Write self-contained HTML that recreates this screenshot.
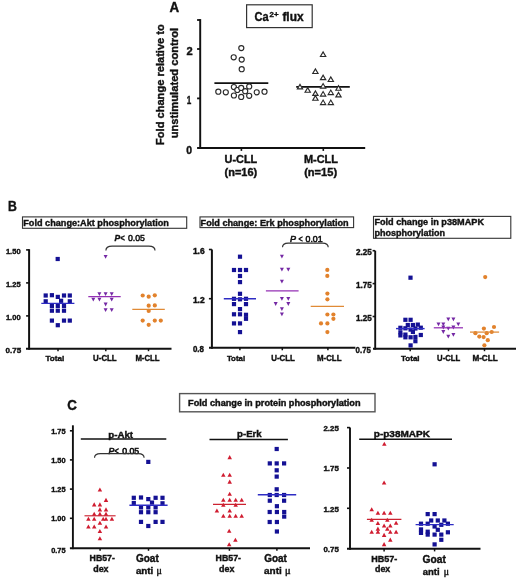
<!DOCTYPE html>
<html><head><meta charset="utf-8"><style>
html,body{margin:0;padding:0;background:#fff;}
svg{display:block;will-change:transform;filter:blur(0.3px);}
text{font-family:"Liberation Sans",sans-serif;}
</style></head><body>
<svg width="520" height="580" viewBox="0 0 520 580">
<rect width="520" height="580" fill="#fff"/>
<text x="169.60" y="12.30" font-size="13.8" font-weight="bold" font-style="normal" textLength="9.63" lengthAdjust="spacingAndGlyphs" fill="#111" stroke="#111" stroke-width="0.4">A</text>
<rect x="246.6" y="4.8" width="65.60" height="22.80" fill="#fff" stroke="#333" stroke-width="1.2"/>
<text x="254.60" y="20.60" font-size="12.6" font-weight="bold" font-style="normal" textLength="14.13" lengthAdjust="spacingAndGlyphs" fill="#111" stroke="#111" stroke-width="0.4">Ca</text>
<text x="269.60" y="16.90" font-size="7.8" font-weight="bold" font-style="normal" textLength="9.00" lengthAdjust="spacingAndGlyphs" fill="#111" stroke="#111" stroke-width="0.4">2+</text>
<text x="282.40" y="20.60" font-size="12.6" font-weight="bold" font-style="normal" textLength="21.17" lengthAdjust="spacingAndGlyphs" fill="#111" stroke="#111" stroke-width="0.4">flux</text>
<text transform="translate(164.30,0) rotate(-90)" x="-145.00" y="0" font-size="11" font-weight="bold" textLength="120.81" lengthAdjust="spacingAndGlyphs" fill="#111" stroke="#111" stroke-width="0.4">Fold change relative to</text>
<text transform="translate(177.80,0) rotate(-90)" x="-138.30" y="0" font-size="11" font-weight="bold" textLength="110.39" lengthAdjust="spacingAndGlyphs" fill="#111" stroke="#111" stroke-width="0.4">unstimulated control</text>
<line x1="200.2" y1="19.1" x2="200.2" y2="148.875" stroke="#111" stroke-width="1.95" stroke-linecap="butt"/>
<line x1="197.1" y1="20" x2="200.2" y2="20" stroke="#111" stroke-width="1.8" stroke-linecap="butt"/>
<line x1="197.1" y1="49.0" x2="200.2" y2="49.0" stroke="#111" stroke-width="1.8" stroke-linecap="butt"/>
<line x1="197.1" y1="98.4" x2="200.2" y2="98.4" stroke="#111" stroke-width="1.8" stroke-linecap="butt"/>
<line x1="197.1" y1="147.9" x2="365.2" y2="147.9" stroke="#111" stroke-width="2.0" stroke-linecap="butt"/>
<line x1="241.4" y1="147.9" x2="241.4" y2="150.9" stroke="#111" stroke-width="1.6" stroke-linecap="butt"/>
<line x1="323.3" y1="147.9" x2="323.3" y2="150.9" stroke="#111" stroke-width="1.6" stroke-linecap="butt"/>
<text x="186.50" y="55.40" font-size="10.8" font-weight="bold" font-style="normal" textLength="6.21" lengthAdjust="spacingAndGlyphs" fill="#111" stroke="#111" stroke-width="0.4">2</text>
<text x="186.80" y="104.40" font-size="10.8" font-weight="bold" font-style="normal" textLength="4.51" lengthAdjust="spacingAndGlyphs" fill="#111" stroke="#111" stroke-width="0.4">1</text>
<text x="186.30" y="153.80" font-size="10.8" font-weight="bold" font-style="normal" textLength="5.81" lengthAdjust="spacingAndGlyphs" fill="#111" stroke="#111" stroke-width="0.4">0</text>
<text x="224.60" y="163.40" font-size="10.6" font-weight="bold" font-style="normal" textLength="32.59" lengthAdjust="spacingAndGlyphs" fill="#111" stroke="#111" stroke-width="0.4">U-CLL</text>
<text x="224.60" y="176.10" font-size="10.6" font-weight="bold" font-style="normal" textLength="32.58" lengthAdjust="spacingAndGlyphs" fill="#111" stroke="#111" stroke-width="0.4">(n=16)</text>
<text x="303.90" y="163.40" font-size="10.6" font-weight="bold" font-style="normal" textLength="34.10" lengthAdjust="spacingAndGlyphs" fill="#111" stroke="#111" stroke-width="0.4">M-CLL</text>
<text x="304.20" y="176.10" font-size="10.6" font-weight="bold" font-style="normal" textLength="32.88" lengthAdjust="spacingAndGlyphs" fill="#111" stroke="#111" stroke-width="0.4">(n=15)</text>
<line x1="214.4" y1="83.1" x2="268.3" y2="83.1" stroke="#111" stroke-width="1.7" stroke-linecap="butt"/>
<circle cx="241.3" cy="48.1" r="2.55" fill="#fff" stroke="#2a2a2a" stroke-width="1.15"/>
<circle cx="233.7" cy="57.3" r="2.55" fill="#fff" stroke="#2a2a2a" stroke-width="1.15"/>
<circle cx="241.7" cy="59.6" r="2.55" fill="#fff" stroke="#2a2a2a" stroke-width="1.15"/>
<circle cx="241.7" cy="69.2" r="2.55" fill="#fff" stroke="#2a2a2a" stroke-width="1.15"/>
<circle cx="218.3" cy="91.7" r="2.55" fill="#fff" stroke="#2a2a2a" stroke-width="1.15"/>
<circle cx="225.8" cy="92.3" r="2.55" fill="#fff" stroke="#2a2a2a" stroke-width="1.15"/>
<circle cx="233.9" cy="87.1" r="2.55" fill="#fff" stroke="#2a2a2a" stroke-width="1.15"/>
<circle cx="237.3" cy="90" r="2.55" fill="#fff" stroke="#2a2a2a" stroke-width="1.15"/>
<circle cx="241.2" cy="87.9" r="2.55" fill="#fff" stroke="#2a2a2a" stroke-width="1.15"/>
<circle cx="245.2" cy="91.2" r="2.55" fill="#fff" stroke="#2a2a2a" stroke-width="1.15"/>
<circle cx="249.2" cy="86.5" r="2.55" fill="#fff" stroke="#2a2a2a" stroke-width="1.15"/>
<circle cx="233.9" cy="95.5" r="2.55" fill="#fff" stroke="#2a2a2a" stroke-width="1.15"/>
<circle cx="241.2" cy="96.9" r="2.55" fill="#fff" stroke="#2a2a2a" stroke-width="1.15"/>
<circle cx="249.2" cy="95.8" r="2.55" fill="#fff" stroke="#2a2a2a" stroke-width="1.15"/>
<circle cx="256.7" cy="92.3" r="2.55" fill="#fff" stroke="#2a2a2a" stroke-width="1.15"/>
<circle cx="264.5" cy="91.7" r="2.55" fill="#fff" stroke="#2a2a2a" stroke-width="1.15"/>
<line x1="296.2" y1="86.9" x2="349.8" y2="86.9" stroke="#111" stroke-width="1.7" stroke-linecap="butt"/>
<polygon points="320.45,56.45 325.75,56.45 323.10,51.95" fill="#fff" stroke="#2a2a2a" stroke-width="1.15" stroke-linejoin="miter"/>
<polygon points="312.75,73.45 318.05,73.45 315.40,68.95" fill="#fff" stroke="#2a2a2a" stroke-width="1.15" stroke-linejoin="miter"/>
<polygon points="320.45,79.65 325.75,79.65 323.10,75.15" fill="#fff" stroke="#2a2a2a" stroke-width="1.15" stroke-linejoin="miter"/>
<polygon points="328.15,81.45 333.45,81.45 330.80,76.95" fill="#fff" stroke="#2a2a2a" stroke-width="1.15" stroke-linejoin="miter"/>
<polygon points="297.35,88.85 302.65,88.85 300.00,84.35" fill="#fff" stroke="#2a2a2a" stroke-width="1.15" stroke-linejoin="miter"/>
<polygon points="320.45,88.05 325.75,88.05 323.10,83.55" fill="#fff" stroke="#2a2a2a" stroke-width="1.15" stroke-linejoin="miter"/>
<polygon points="335.85,90.25 341.15,90.25 338.50,85.75" fill="#fff" stroke="#2a2a2a" stroke-width="1.15" stroke-linejoin="miter"/>
<polygon points="305.05,92.25 310.35,92.25 307.70,87.75" fill="#fff" stroke="#2a2a2a" stroke-width="1.15" stroke-linejoin="miter"/>
<polygon points="312.75,95.35 318.05,95.35 315.40,90.85" fill="#fff" stroke="#2a2a2a" stroke-width="1.15" stroke-linejoin="miter"/>
<polygon points="320.45,96.05 325.75,96.05 323.10,91.55" fill="#fff" stroke="#2a2a2a" stroke-width="1.15" stroke-linejoin="miter"/>
<polygon points="328.15,94.55 333.45,94.55 330.80,90.05" fill="#fff" stroke="#2a2a2a" stroke-width="1.15" stroke-linejoin="miter"/>
<polygon points="335.85,96.85 341.15,96.85 338.50,92.35" fill="#fff" stroke="#2a2a2a" stroke-width="1.15" stroke-linejoin="miter"/>
<polygon points="312.75,100.25 318.05,100.25 315.40,95.75" fill="#fff" stroke="#2a2a2a" stroke-width="1.15" stroke-linejoin="miter"/>
<polygon points="320.45,104.55 325.75,104.55 323.10,100.05" fill="#fff" stroke="#2a2a2a" stroke-width="1.15" stroke-linejoin="miter"/>
<polygon points="328.15,104.55 333.45,104.55 330.80,100.05" fill="#fff" stroke="#2a2a2a" stroke-width="1.15" stroke-linejoin="miter"/>
<text x="8.10" y="210.80" font-size="13.8" font-weight="bold" font-style="normal" textLength="8.83" lengthAdjust="spacingAndGlyphs" fill="#111" stroke="#111" stroke-width="0.4">B</text>
<rect x="22.5" y="216.9" width="164.20" height="11.40" fill="#fff" stroke="#333" stroke-width="1.1"/>
<text x="23.30" y="226.10" font-size="9.4" font-weight="bold" font-style="normal" textLength="145.60" lengthAdjust="spacingAndGlyphs" fill="#111" stroke="#111" stroke-width="0.4">Fold change:Akt phosphorylation</text>
<text x="114.50" y="240.60" font-size="9" font-weight="bold" font-style="italic" textLength="5.67" lengthAdjust="spacingAndGlyphs" fill="#111" stroke="#111" stroke-width="0.4">P</text>
<text x="120.60" y="240.60" font-size="9" font-weight="bold" font-style="normal" textLength="4.29" lengthAdjust="spacingAndGlyphs" fill="#111" stroke="#111" stroke-width="0.4">&lt;</text>
<text x="127.90" y="240.60" font-size="9" font-weight="normal" font-style="normal" textLength="17.01" lengthAdjust="spacingAndGlyphs" fill="#111" stroke="#111" stroke-width="0.5">0.05</text>
<path d="M105.9,250.6 Q105.9,246.2 112.06,246.2 L148.84,246.2 Q155.0,246.2 155.0,250.6" fill="none" stroke="#333" stroke-width="1.2"/>
<line x1="29.1" y1="249.2" x2="29.1" y2="349.7" stroke="#111" stroke-width="2.0" stroke-linecap="butt"/>
<line x1="26.1" y1="249.9" x2="29.1" y2="249.9" stroke="#111" stroke-width="1.6" stroke-linecap="butt"/>
<line x1="26.1" y1="282.9" x2="29.1" y2="282.9" stroke="#111" stroke-width="1.6" stroke-linecap="butt"/>
<line x1="26.1" y1="315.9" x2="29.1" y2="315.9" stroke="#111" stroke-width="1.6" stroke-linecap="butt"/>
<line x1="26.0" y1="348.7" x2="171.5" y2="348.7" stroke="#111" stroke-width="1.9" stroke-linecap="butt"/>
<line x1="58" y1="348.7" x2="58" y2="351.2" stroke="#111" stroke-width="1.5" stroke-linecap="butt"/>
<line x1="105.8" y1="348.7" x2="105.8" y2="351.2" stroke="#111" stroke-width="1.5" stroke-linecap="butt"/>
<line x1="148.5" y1="348.7" x2="148.5" y2="351.2" stroke="#111" stroke-width="1.5" stroke-linecap="butt"/>
<text x="5.90" y="254.30" font-size="8" font-weight="bold" font-style="normal" textLength="14.71" lengthAdjust="spacingAndGlyphs" fill="#111" stroke="#111" stroke-width="0.4">1.50</text>
<text x="5.90" y="287.30" font-size="8" font-weight="bold" font-style="normal" textLength="14.71" lengthAdjust="spacingAndGlyphs" fill="#111" stroke="#111" stroke-width="0.4">1.25</text>
<text x="5.90" y="320.10" font-size="8" font-weight="bold" font-style="normal" textLength="14.71" lengthAdjust="spacingAndGlyphs" fill="#111" stroke="#111" stroke-width="0.4">1.00</text>
<text x="5.50" y="352.90" font-size="8" font-weight="bold" font-style="normal" textLength="15.61" lengthAdjust="spacingAndGlyphs" fill="#111" stroke="#111" stroke-width="0.4">0.75</text>
<text x="45.50" y="360.80" font-size="8" font-weight="bold" font-style="normal" textLength="18.80" lengthAdjust="spacingAndGlyphs" fill="#111" stroke="#111" stroke-width="0.4">Total</text>
<text x="93.10" y="360.60" font-size="8.2" font-weight="bold" font-style="normal" textLength="23.59" lengthAdjust="spacingAndGlyphs" fill="#111" stroke="#111" stroke-width="0.4">U-CLL</text>
<text x="135.40" y="360.60" font-size="8.2" font-weight="bold" font-style="normal" textLength="24.20" lengthAdjust="spacingAndGlyphs" fill="#111" stroke="#111" stroke-width="0.4">M-CLL</text>
<rect x="55.60" y="256.90" width="4.2" height="4.2" fill="#141194"/>
<rect x="43.60" y="293.40" width="4.2" height="4.2" fill="#141194"/>
<rect x="49.80" y="293.10" width="4.2" height="4.2" fill="#141194"/>
<rect x="55.70" y="294.80" width="4.2" height="4.2" fill="#141194"/>
<rect x="61.90" y="293.40" width="4.2" height="4.2" fill="#141194"/>
<rect x="67.70" y="293.40" width="4.2" height="4.2" fill="#141194"/>
<rect x="43.60" y="299.20" width="4.2" height="4.2" fill="#141194"/>
<rect x="59.00" y="298.70" width="4.2" height="4.2" fill="#141194"/>
<rect x="67.70" y="299.20" width="4.2" height="4.2" fill="#141194"/>
<rect x="49.80" y="303.80" width="4.2" height="4.2" fill="#141194"/>
<rect x="55.70" y="303.80" width="4.2" height="4.2" fill="#141194"/>
<rect x="61.90" y="303.80" width="4.2" height="4.2" fill="#141194"/>
<rect x="49.80" y="308.60" width="4.2" height="4.2" fill="#141194"/>
<rect x="55.70" y="308.60" width="4.2" height="4.2" fill="#141194"/>
<rect x="61.90" y="308.60" width="4.2" height="4.2" fill="#141194"/>
<rect x="49.80" y="318.50" width="4.2" height="4.2" fill="#141194"/>
<rect x="61.90" y="318.50" width="4.2" height="4.2" fill="#141194"/>
<rect x="67.70" y="318.50" width="4.2" height="4.2" fill="#141194"/>
<rect x="55.70" y="323.10" width="4.2" height="4.2" fill="#141194"/>
<line x1="41.3" y1="303.4" x2="74.4" y2="303.4" stroke="#2e2cc4" stroke-width="1.4" stroke-linecap="butt"/>
<polygon points="103.60,255.00 107.60,255.00 105.60,258.80" fill="#7428a4"/>
<polygon points="97.40,292.20 101.40,292.20 99.40,296.00" fill="#7428a4"/>
<polygon points="103.60,292.20 107.60,292.20 105.60,296.00" fill="#7428a4"/>
<polygon points="109.70,292.20 113.70,292.20 111.70,296.00" fill="#7428a4"/>
<polygon points="91.30,297.80 95.30,297.80 93.30,301.60" fill="#7428a4"/>
<polygon points="97.40,297.80 101.40,297.80 99.40,301.60" fill="#7428a4"/>
<polygon points="109.70,297.80 113.70,297.80 111.70,301.60" fill="#7428a4"/>
<polygon points="103.60,302.60 107.60,302.60 105.60,306.40" fill="#7428a4"/>
<polygon points="103.60,308.20 107.60,308.20 105.60,312.00" fill="#7428a4"/>
<polygon points="109.70,308.20 113.70,308.20 111.70,312.00" fill="#7428a4"/>
<line x1="88.3" y1="296.5" x2="120.7" y2="296.5" stroke="#9430b4" stroke-width="1.25" stroke-linecap="butt"/>
<circle cx="142.7" cy="295.5" r="2.1" fill="#e2822c"/>
<circle cx="148.7" cy="296.7" r="2.1" fill="#e2822c"/>
<circle cx="154.8" cy="295.3" r="2.1" fill="#e2822c"/>
<circle cx="148.7" cy="305.7" r="2.1" fill="#e2822c"/>
<circle cx="154.8" cy="305.4" r="2.1" fill="#e2822c"/>
<circle cx="148.7" cy="310.9" r="2.1" fill="#e2822c"/>
<circle cx="142.7" cy="320.6" r="2.1" fill="#e2822c"/>
<circle cx="154.8" cy="320.6" r="2.1" fill="#e2822c"/>
<circle cx="160.8" cy="320.6" r="2.1" fill="#e2822c"/>
<circle cx="148.7" cy="324.8" r="2.1" fill="#e2822c"/>
<line x1="132.3" y1="309.4" x2="164.8" y2="309.4" stroke="#e08a36" stroke-width="1.25" stroke-linecap="butt"/>
<rect x="200.0" y="216.9" width="153.60" height="10.70" fill="#fff" stroke="#333" stroke-width="1.1"/>
<text x="200.60" y="225.90" font-size="9.5" font-weight="bold" font-style="normal" textLength="148.09" lengthAdjust="spacingAndGlyphs" fill="#111" stroke="#111" stroke-width="0.4">Fold change: Erk phosphorylation</text>
<text x="290.00" y="242.00" font-size="8.5" font-weight="normal" font-style="italic" textLength="6.02" lengthAdjust="spacingAndGlyphs" fill="#111" stroke="#111" stroke-width="0.55">P</text>
<text x="298.60" y="242.00" font-size="8.5" font-weight="normal" font-style="normal" textLength="4.19" lengthAdjust="spacingAndGlyphs" fill="#111" stroke="#111" stroke-width="0.55">&lt;</text>
<text x="305.50" y="242.00" font-size="8.5" font-weight="normal" font-style="normal" textLength="17.11" lengthAdjust="spacingAndGlyphs" fill="#111" stroke="#111" stroke-width="0.55">0.01</text>
<path d="M282.5,247.3 Q282.5,243.2 288.24,243.2 L322.46,243.2 Q328.2,243.2 328.2,247.3" fill="none" stroke="#333" stroke-width="1.2"/>
<line x1="211.9" y1="249.5" x2="211.9" y2="348.8" stroke="#111" stroke-width="2.0" stroke-linecap="butt"/>
<line x1="208.9" y1="249.5" x2="211.9" y2="249.5" stroke="#111" stroke-width="1.6" stroke-linecap="butt"/>
<line x1="208.9" y1="298.7" x2="211.9" y2="298.7" stroke="#111" stroke-width="1.6" stroke-linecap="butt"/>
<line x1="209.0" y1="347.8" x2="355.4" y2="347.8" stroke="#111" stroke-width="1.9" stroke-linecap="butt"/>
<line x1="239.9" y1="347.8" x2="239.9" y2="350.3" stroke="#111" stroke-width="1.5" stroke-linecap="butt"/>
<line x1="282.3" y1="347.8" x2="282.3" y2="350.3" stroke="#111" stroke-width="1.5" stroke-linecap="butt"/>
<line x1="327.9" y1="347.8" x2="327.9" y2="350.3" stroke="#111" stroke-width="1.5" stroke-linecap="butt"/>
<text x="192.90" y="254.10" font-size="8.2" font-weight="bold" font-style="normal" textLength="11.80" lengthAdjust="spacingAndGlyphs" fill="#111" stroke="#111" stroke-width="0.4">1.6</text>
<text x="192.90" y="303.20" font-size="8.2" font-weight="bold" font-style="normal" textLength="11.80" lengthAdjust="spacingAndGlyphs" fill="#111" stroke="#111" stroke-width="0.4">1.2</text>
<text x="192.90" y="351.90" font-size="8.2" font-weight="bold" font-style="normal" textLength="11.00" lengthAdjust="spacingAndGlyphs" fill="#111" stroke="#111" stroke-width="0.4">0.8</text>
<text x="226.90" y="360.70" font-size="8" font-weight="bold" font-style="normal" textLength="18.20" lengthAdjust="spacingAndGlyphs" fill="#111" stroke="#111" stroke-width="0.4">Total</text>
<text x="271.20" y="360.70" font-size="8.2" font-weight="bold" font-style="normal" textLength="23.69" lengthAdjust="spacingAndGlyphs" fill="#111" stroke="#111" stroke-width="0.4">U-CLL</text>
<text x="317.00" y="361.40" font-size="8.2" font-weight="bold" font-style="normal" textLength="24.50" lengthAdjust="spacingAndGlyphs" fill="#111" stroke="#111" stroke-width="0.4">M-CLL</text>
<rect x="237.90" y="254.60" width="4.2" height="4.2" fill="#141194"/>
<rect x="231.90" y="267.90" width="4.2" height="4.2" fill="#141194"/>
<rect x="237.90" y="267.90" width="4.2" height="4.2" fill="#141194"/>
<rect x="243.90" y="267.90" width="4.2" height="4.2" fill="#141194"/>
<rect x="237.90" y="273.90" width="4.2" height="4.2" fill="#141194"/>
<rect x="237.90" y="280.00" width="4.2" height="4.2" fill="#141194"/>
<rect x="237.90" y="291.70" width="4.2" height="4.2" fill="#141194"/>
<rect x="231.90" y="296.70" width="4.2" height="4.2" fill="#141194"/>
<rect x="237.90" y="297.20" width="4.2" height="4.2" fill="#141194"/>
<rect x="243.90" y="296.70" width="4.2" height="4.2" fill="#141194"/>
<rect x="231.90" y="302.00" width="4.2" height="4.2" fill="#141194"/>
<rect x="243.90" y="302.00" width="4.2" height="4.2" fill="#141194"/>
<rect x="237.90" y="307.00" width="4.2" height="4.2" fill="#141194"/>
<rect x="231.90" y="312.20" width="4.2" height="4.2" fill="#141194"/>
<rect x="237.90" y="312.20" width="4.2" height="4.2" fill="#141194"/>
<rect x="243.90" y="312.70" width="4.2" height="4.2" fill="#141194"/>
<rect x="243.90" y="316.70" width="4.2" height="4.2" fill="#141194"/>
<rect x="231.90" y="321.30" width="4.2" height="4.2" fill="#141194"/>
<rect x="237.90" y="321.30" width="4.2" height="4.2" fill="#141194"/>
<rect x="237.90" y="330.00" width="4.2" height="4.2" fill="#141194"/>
<line x1="223.8" y1="298.8" x2="256" y2="298.8" stroke="#2e2cc4" stroke-width="1.4" stroke-linecap="butt"/>
<polygon points="279.90,254.70 283.90,254.70 281.90,258.50" fill="#7428a4"/>
<polygon points="279.90,267.80 283.90,267.80 281.90,271.60" fill="#7428a4"/>
<polygon points="286.30,267.80 290.30,267.80 288.30,271.60" fill="#7428a4"/>
<polygon points="279.90,279.70 283.90,279.70 281.90,283.50" fill="#7428a4"/>
<polygon points="279.90,296.90 283.90,296.90 281.90,300.70" fill="#7428a4"/>
<polygon points="286.30,296.90 290.30,296.90 288.30,300.70" fill="#7428a4"/>
<polygon points="273.70,302.10 277.70,302.10 275.70,305.90" fill="#7428a4"/>
<polygon points="286.30,302.10 290.30,302.10 288.30,305.90" fill="#7428a4"/>
<polygon points="279.90,307.20 283.90,307.20 281.90,311.00" fill="#7428a4"/>
<polygon points="279.90,312.40 283.90,312.40 281.90,316.20" fill="#7428a4"/>
<line x1="265.9" y1="290.9" x2="298.6" y2="290.9" stroke="#9430b4" stroke-width="1.25" stroke-linecap="butt"/>
<circle cx="327.3" cy="269.9" r="2.1" fill="#e2822c"/>
<circle cx="327.3" cy="275.9" r="2.1" fill="#e2822c"/>
<circle cx="327.4" cy="293.6" r="2.1" fill="#e2822c"/>
<circle cx="327.4" cy="299.3" r="2.1" fill="#e2822c"/>
<circle cx="327.4" cy="314.5" r="2.1" fill="#e2822c"/>
<circle cx="333.4" cy="314.5" r="2.1" fill="#e2822c"/>
<circle cx="333.4" cy="318.8" r="2.1" fill="#e2822c"/>
<circle cx="321" cy="323.4" r="2.1" fill="#e2822c"/>
<circle cx="327.4" cy="323.4" r="2.1" fill="#e2822c"/>
<circle cx="327.4" cy="332.1" r="2.1" fill="#e2822c"/>
<line x1="310.7" y1="306.4" x2="344" y2="306.4" stroke="#e08a36" stroke-width="1.25" stroke-linecap="butt"/>
<rect x="373.5" y="216.4" width="137.30" height="21.90" fill="#fff" stroke="#333" stroke-width="1.1"/>
<text x="374.40" y="225.40" font-size="9.5" font-weight="bold" font-style="normal" textLength="109.61" lengthAdjust="spacingAndGlyphs" fill="#111" stroke="#111" stroke-width="0.4">Fold change in p38MAPK</text>
<text x="374.40" y="235.60" font-size="9.5" font-weight="bold" font-style="normal" textLength="70.68" lengthAdjust="spacingAndGlyphs" fill="#111" stroke="#111" stroke-width="0.4">phosphorylation</text>
<line x1="375.2" y1="250.7" x2="375.2" y2="349.65" stroke="#111" stroke-width="1.9" stroke-linecap="butt"/>
<line x1="372.59999999999997" y1="250.7" x2="375.2" y2="250.7" stroke="#111" stroke-width="1.6" stroke-linecap="butt"/>
<line x1="372.59999999999997" y1="283.6" x2="375.2" y2="283.6" stroke="#111" stroke-width="1.6" stroke-linecap="butt"/>
<line x1="372.59999999999997" y1="316.5" x2="375.2" y2="316.5" stroke="#111" stroke-width="1.6" stroke-linecap="butt"/>
<line x1="373" y1="348.7" x2="516" y2="348.7" stroke="#111" stroke-width="1.9" stroke-linecap="butt"/>
<line x1="410.2" y1="348.7" x2="410.2" y2="351.2" stroke="#111" stroke-width="1.5" stroke-linecap="butt"/>
<line x1="448.5" y1="348.7" x2="448.5" y2="351.2" stroke="#111" stroke-width="1.5" stroke-linecap="butt"/>
<line x1="484.5" y1="348.7" x2="484.5" y2="351.2" stroke="#111" stroke-width="1.5" stroke-linecap="butt"/>
<text x="355.90" y="255.30" font-size="8.5" font-weight="bold" font-style="normal" textLength="15.81" lengthAdjust="spacingAndGlyphs" fill="#111" stroke="#111" stroke-width="0.4">2.25</text>
<text x="355.90" y="288.20" font-size="8.5" font-weight="bold" font-style="normal" textLength="15.81" lengthAdjust="spacingAndGlyphs" fill="#111" stroke="#111" stroke-width="0.4">1.75</text>
<text x="355.90" y="321.00" font-size="8.5" font-weight="bold" font-style="normal" textLength="15.81" lengthAdjust="spacingAndGlyphs" fill="#111" stroke="#111" stroke-width="0.4">1.25</text>
<text x="355.60" y="353.20" font-size="8.5" font-weight="bold" font-style="normal" textLength="15.31" lengthAdjust="spacingAndGlyphs" fill="#111" stroke="#111" stroke-width="0.4">0.75</text>
<text x="401.00" y="361.00" font-size="8" font-weight="bold" font-style="normal" textLength="18.60" lengthAdjust="spacingAndGlyphs" fill="#111" stroke="#111" stroke-width="0.4">Total</text>
<text x="437.10" y="361.00" font-size="8.2" font-weight="bold" font-style="normal" textLength="23.09" lengthAdjust="spacingAndGlyphs" fill="#111" stroke="#111" stroke-width="0.4">U-CLL</text>
<text x="472.40" y="361.00" font-size="8.2" font-weight="bold" font-style="normal" textLength="25.30" lengthAdjust="spacingAndGlyphs" fill="#111" stroke="#111" stroke-width="0.4">M-CLL</text>
<rect x="408.40" y="275.60" width="4.2" height="4.2" fill="#141194"/>
<rect x="403.30" y="317.70" width="4.2" height="4.2" fill="#141194"/>
<rect x="408.50" y="317.70" width="4.2" height="4.2" fill="#141194"/>
<rect x="405.70" y="322.90" width="4.2" height="4.2" fill="#141194"/>
<rect x="410.80" y="322.90" width="4.2" height="4.2" fill="#141194"/>
<rect x="415.70" y="322.50" width="4.2" height="4.2" fill="#141194"/>
<rect x="398.30" y="325.70" width="4.2" height="4.2" fill="#141194"/>
<rect x="403.30" y="326.20" width="4.2" height="4.2" fill="#141194"/>
<rect x="408.50" y="327.50" width="4.2" height="4.2" fill="#141194"/>
<rect x="413.30" y="326.40" width="4.2" height="4.2" fill="#141194"/>
<rect x="418.70" y="325.60" width="4.2" height="4.2" fill="#141194"/>
<rect x="398.30" y="330.20" width="4.2" height="4.2" fill="#141194"/>
<rect x="398.30" y="333.30" width="4.2" height="4.2" fill="#141194"/>
<rect x="403.30" y="332.50" width="4.2" height="4.2" fill="#141194"/>
<rect x="403.30" y="335.20" width="4.2" height="4.2" fill="#141194"/>
<rect x="408.50" y="335.20" width="4.2" height="4.2" fill="#141194"/>
<rect x="410.80" y="329.80" width="4.2" height="4.2" fill="#141194"/>
<rect x="413.30" y="334.80" width="4.2" height="4.2" fill="#141194"/>
<rect x="413.30" y="339.10" width="4.2" height="4.2" fill="#141194"/>
<rect x="418.70" y="332.90" width="4.2" height="4.2" fill="#141194"/>
<rect x="408.50" y="343.30" width="4.2" height="4.2" fill="#141194"/>
<line x1="396" y1="328.6" x2="424.6" y2="328.6" stroke="#2e2cc4" stroke-width="1.4" stroke-linecap="butt"/>
<polygon points="446.30,317.40 450.30,317.40 448.30,321.20" fill="#7428a4"/>
<polygon points="451.40,317.40 455.40,317.40 453.40,321.20" fill="#7428a4"/>
<polygon points="436.50,322.50 440.50,322.50 438.50,326.30" fill="#7428a4"/>
<polygon points="441.30,322.50 445.30,322.50 443.30,326.30" fill="#7428a4"/>
<polygon points="456.30,322.50 460.30,322.50 458.30,326.30" fill="#7428a4"/>
<polygon points="441.30,325.60 445.30,325.60 443.30,329.40" fill="#7428a4"/>
<polygon points="446.30,326.70 450.30,326.70 448.30,330.50" fill="#7428a4"/>
<polygon points="451.40,325.60 455.40,325.60 453.40,329.40" fill="#7428a4"/>
<polygon points="441.30,330.10 445.30,330.10 443.30,333.90" fill="#7428a4"/>
<polygon points="451.40,332.90 455.40,332.90 453.40,336.70" fill="#7428a4"/>
<polygon points="446.30,334.70 450.30,334.70 448.30,338.50" fill="#7428a4"/>
<line x1="433.8" y1="327.8" x2="463" y2="327.8" stroke="#9430b4" stroke-width="1.25" stroke-linecap="butt"/>
<circle cx="485.2" cy="277.1" r="2.1" fill="#e2822c"/>
<circle cx="483.9" cy="328.6" r="2.1" fill="#e2822c"/>
<circle cx="494" cy="327" r="2.1" fill="#e2822c"/>
<circle cx="475.4" cy="333.2" r="2.1" fill="#e2822c"/>
<circle cx="486.7" cy="333.2" r="2.1" fill="#e2822c"/>
<circle cx="491.7" cy="332" r="2.1" fill="#e2822c"/>
<circle cx="479.3" cy="336.6" r="2.1" fill="#e2822c"/>
<circle cx="483.6" cy="337.1" r="2.1" fill="#e2822c"/>
<circle cx="487.8" cy="340.2" r="2.1" fill="#e2822c"/>
<circle cx="484.4" cy="345.3" r="2.1" fill="#e2822c"/>
<line x1="470" y1="332.1" x2="499.1" y2="332.1" stroke="#e08a36" stroke-width="1.25" stroke-linecap="butt"/>
<text x="67.30" y="410.40" font-size="13.8" font-weight="bold" font-style="normal" textLength="9.63" lengthAdjust="spacingAndGlyphs" fill="#111" stroke="#111" stroke-width="0.4">C</text>
<rect x="179.6" y="393.6" width="195.40" height="18.20" fill="#fff" stroke="#555" stroke-width="1.4"/>
<text x="188.10" y="405.90" font-size="8.5" font-weight="bold" font-style="normal" textLength="172.48" lengthAdjust="spacingAndGlyphs" fill="#111" stroke="#111" stroke-width="0.4">Fold change in protein phosphorylation</text>
<line x1="72.9" y1="425.3" x2="72.9" y2="549.1500000000001" stroke="#111" stroke-width="1.9" stroke-linecap="butt"/>
<line x1="69.9" y1="430.8" x2="72.9" y2="430.8" stroke="#111" stroke-width="1.6" stroke-linecap="butt"/>
<line x1="69.9" y1="459.9" x2="72.9" y2="459.9" stroke="#111" stroke-width="1.6" stroke-linecap="butt"/>
<line x1="69.9" y1="489.1" x2="72.9" y2="489.1" stroke="#111" stroke-width="1.6" stroke-linecap="butt"/>
<line x1="69.9" y1="518.3" x2="72.9" y2="518.3" stroke="#111" stroke-width="1.6" stroke-linecap="butt"/>
<line x1="69.9" y1="548.2" x2="310" y2="548.2" stroke="#111" stroke-width="1.9" stroke-linecap="butt"/>
<line x1="100.1" y1="548.2" x2="100.1" y2="550.8000000000001" stroke="#111" stroke-width="1.5" stroke-linecap="butt"/>
<line x1="148.5" y1="548.2" x2="148.5" y2="550.8000000000001" stroke="#111" stroke-width="1.5" stroke-linecap="butt"/>
<line x1="229.4" y1="548.2" x2="229.4" y2="550.8000000000001" stroke="#111" stroke-width="1.5" stroke-linecap="butt"/>
<line x1="276.9" y1="548.2" x2="276.9" y2="550.8000000000001" stroke="#111" stroke-width="1.5" stroke-linecap="butt"/>
<text x="51.20" y="433.80" font-size="7.8" font-weight="bold" font-style="normal" textLength="14.41" lengthAdjust="spacingAndGlyphs" fill="#111" stroke="#111" stroke-width="0.4">1.75</text>
<text x="51.20" y="462.90" font-size="7.8" font-weight="bold" font-style="normal" textLength="14.41" lengthAdjust="spacingAndGlyphs" fill="#111" stroke="#111" stroke-width="0.4">1.50</text>
<text x="51.20" y="492.10" font-size="7.8" font-weight="bold" font-style="normal" textLength="14.41" lengthAdjust="spacingAndGlyphs" fill="#111" stroke="#111" stroke-width="0.4">1.25</text>
<text x="51.20" y="521.30" font-size="7.8" font-weight="bold" font-style="normal" textLength="14.41" lengthAdjust="spacingAndGlyphs" fill="#111" stroke="#111" stroke-width="0.4">1.00</text>
<text x="51.20" y="552.50" font-size="7.8" font-weight="bold" font-style="normal" textLength="14.41" lengthAdjust="spacingAndGlyphs" fill="#111" stroke="#111" stroke-width="0.4">0.75</text>
<line x1="80.8" y1="439.0" x2="166.3" y2="439.0" stroke="#111" stroke-width="1.5" stroke-linecap="butt"/>
<text x="108.20" y="437.90" font-size="9" font-weight="bold" font-style="normal" textLength="24.90" lengthAdjust="spacingAndGlyphs" fill="#111" stroke="#111" stroke-width="0.4">p-Akt</text>
<text x="108.40" y="453.60" font-size="8.6" font-weight="normal" font-style="italic" textLength="5.82" lengthAdjust="spacingAndGlyphs" fill="#111" stroke="#111" stroke-width="0.6">P</text>
<text x="114.60" y="453.60" font-size="8.6" font-weight="normal" font-style="normal" textLength="4.29" lengthAdjust="spacingAndGlyphs" fill="#111" stroke="#111" stroke-width="0.6">&lt;</text>
<text x="122.20" y="453.60" font-size="8.6" font-weight="normal" font-style="normal" textLength="16.91" lengthAdjust="spacingAndGlyphs" fill="#111" stroke="#111" stroke-width="0.6">0.05</text>
<path d="M94.5,457.8 Q94.5,453.6 100.38,453.6 L138.22,453.6 Q144.1,453.6 144.1,457.8" fill="none" stroke="#333" stroke-width="1.2"/>
<line x1="209.5" y1="439.5" x2="287.9" y2="439.5" stroke="#111" stroke-width="1.5" stroke-linecap="butt"/>
<text x="237.10" y="437.30" font-size="9" font-weight="bold" font-style="normal" textLength="24.56" lengthAdjust="spacingAndGlyphs" fill="#111" stroke="#111" stroke-width="0.4">p-Erk</text>
<text x="89.60" y="560.80" font-size="8.7" font-weight="bold" font-style="normal" textLength="25.20" lengthAdjust="spacingAndGlyphs" fill="#111" stroke="#111" stroke-width="0.4">HB57-</text>
<text x="93.20" y="571.60" font-size="8.7" font-weight="bold" font-style="normal" textLength="15.38" lengthAdjust="spacingAndGlyphs" fill="#111" stroke="#111" stroke-width="0.4">dex</text>
<text x="135.90" y="562.00" font-size="10.3" font-weight="bold" font-style="normal" textLength="22.88" lengthAdjust="spacingAndGlyphs" fill="#111" stroke="#111" stroke-width="0.4">Goat</text>
<text x="135.90" y="573.50" font-size="9.8" font-weight="bold" font-style="normal" textLength="17.38" lengthAdjust="spacingAndGlyphs" fill="#111" stroke="#111" stroke-width="0.4">anti</text>
<text x="215.60" y="560.80" font-size="8.7" font-weight="bold" font-style="normal" textLength="25.40" lengthAdjust="spacingAndGlyphs" fill="#111" stroke="#111" stroke-width="0.4">HB57-</text>
<text x="219.00" y="571.70" font-size="8.7" font-weight="bold" font-style="normal" textLength="15.38" lengthAdjust="spacingAndGlyphs" fill="#111" stroke="#111" stroke-width="0.4">dex</text>
<text x="264.20" y="561.60" font-size="10.3" font-weight="bold" font-style="normal" textLength="22.68" lengthAdjust="spacingAndGlyphs" fill="#111" stroke="#111" stroke-width="0.4">Goat</text>
<text x="264.00" y="573.70" font-size="9.8" font-weight="bold" font-style="normal" textLength="17.78" lengthAdjust="spacingAndGlyphs" fill="#111" stroke="#111" stroke-width="0.4">anti</text>
<polygon points="97.65,491.55 102.15,491.55 99.90,487.45" fill="#d01c30"/>
<polygon points="103.75,501.95 108.25,501.95 106.00,497.85" fill="#d01c30"/>
<polygon points="91.95,506.45 96.45,506.45 94.20,502.35" fill="#d01c30"/>
<polygon points="97.65,506.45 102.15,506.45 99.90,502.35" fill="#d01c30"/>
<polygon points="97.65,511.45 102.15,511.45 99.90,507.35" fill="#d01c30"/>
<polygon points="103.75,511.45 108.25,511.45 106.00,507.35" fill="#d01c30"/>
<polygon points="91.95,515.85 96.45,515.85 94.20,511.75" fill="#d01c30"/>
<polygon points="97.65,515.85 102.15,515.85 99.90,511.75" fill="#d01c30"/>
<polygon points="103.75,515.85 108.25,515.85 106.00,511.75" fill="#d01c30"/>
<polygon points="86.15,520.75 90.65,520.75 88.40,516.65" fill="#d01c30"/>
<polygon points="91.95,520.75 96.45,520.75 94.20,516.65" fill="#d01c30"/>
<polygon points="100.95,520.75 105.45,520.75 103.20,516.65" fill="#d01c30"/>
<polygon points="103.75,520.75 108.25,520.75 106.00,516.65" fill="#d01c30"/>
<polygon points="109.65,520.75 114.15,520.75 111.90,516.65" fill="#d01c30"/>
<polygon points="97.65,524.85 102.15,524.85 99.90,520.75" fill="#d01c30"/>
<polygon points="86.15,528.55 90.65,528.55 88.40,524.45" fill="#d01c30"/>
<polygon points="91.95,528.55 96.45,528.55 94.20,524.45" fill="#d01c30"/>
<polygon points="103.75,528.55 108.25,528.55 106.00,524.45" fill="#d01c30"/>
<polygon points="97.65,533.05 102.15,533.05 99.90,528.95" fill="#d01c30"/>
<polygon points="97.65,540.35 102.15,540.35 99.90,536.25" fill="#d01c30"/>
<line x1="84.5" y1="515.8" x2="115.6" y2="515.8" stroke="#cc2230" stroke-width="1.15" stroke-linecap="butt"/>
<rect x="146.20" y="459.80" width="4.2" height="4.2" fill="#141194"/>
<rect x="131.70" y="495.70" width="4.2" height="4.2" fill="#141194"/>
<rect x="138.90" y="495.40" width="4.2" height="4.2" fill="#141194"/>
<rect x="146.20" y="497.00" width="4.2" height="4.2" fill="#141194"/>
<rect x="153.50" y="495.70" width="4.2" height="4.2" fill="#141194"/>
<rect x="160.40" y="495.70" width="4.2" height="4.2" fill="#141194"/>
<rect x="131.70" y="500.90" width="4.2" height="4.2" fill="#141194"/>
<rect x="149.90" y="500.50" width="4.2" height="4.2" fill="#141194"/>
<rect x="160.40" y="501.20" width="4.2" height="4.2" fill="#141194"/>
<rect x="138.90" y="505.30" width="4.2" height="4.2" fill="#141194"/>
<rect x="146.20" y="505.30" width="4.2" height="4.2" fill="#141194"/>
<rect x="153.50" y="505.30" width="4.2" height="4.2" fill="#141194"/>
<rect x="138.90" y="510.10" width="4.2" height="4.2" fill="#141194"/>
<rect x="146.20" y="510.10" width="4.2" height="4.2" fill="#141194"/>
<rect x="153.50" y="510.10" width="4.2" height="4.2" fill="#141194"/>
<rect x="138.90" y="519.80" width="4.2" height="4.2" fill="#141194"/>
<rect x="153.50" y="519.80" width="4.2" height="4.2" fill="#141194"/>
<rect x="160.40" y="519.80" width="4.2" height="4.2" fill="#141194"/>
<rect x="146.20" y="523.90" width="4.2" height="4.2" fill="#141194"/>
<line x1="129.4" y1="505.3" x2="167.6" y2="505.3" stroke="#2e2cc4" stroke-width="1.4" stroke-linecap="butt"/>
<polygon points="227.45,459.15 231.95,459.15 229.70,455.05" fill="#d01c30"/>
<polygon points="221.05,476.85 225.55,476.85 223.30,472.75" fill="#d01c30"/>
<polygon points="227.45,476.85 231.95,476.85 229.70,472.75" fill="#d01c30"/>
<polygon points="227.45,483.65 231.95,483.65 229.70,479.55" fill="#d01c30"/>
<polygon points="227.45,495.85 231.95,495.85 229.70,491.75" fill="#d01c30"/>
<polygon points="221.05,501.75 225.55,501.75 223.30,497.65" fill="#d01c30"/>
<polygon points="227.45,501.75 231.95,501.75 229.70,497.65" fill="#d01c30"/>
<polygon points="233.45,501.75 237.95,501.75 235.70,497.65" fill="#d01c30"/>
<polygon points="239.45,501.75 243.95,501.75 241.70,497.65" fill="#d01c30"/>
<polygon points="221.05,506.85 225.55,506.85 223.30,502.75" fill="#d01c30"/>
<polygon points="233.45,506.85 237.95,506.85 235.70,502.75" fill="#d01c30"/>
<polygon points="214.65,512.55 219.15,512.55 216.90,508.45" fill="#d01c30"/>
<polygon points="227.45,512.55 231.95,512.55 229.70,508.45" fill="#d01c30"/>
<polygon points="221.05,517.75 225.55,517.75 223.30,513.65" fill="#d01c30"/>
<polygon points="227.45,517.75 231.95,517.75 229.70,513.65" fill="#d01c30"/>
<polygon points="233.45,517.75 237.95,517.75 235.70,513.65" fill="#d01c30"/>
<polygon points="239.45,517.75 243.95,517.75 241.70,513.65" fill="#d01c30"/>
<polygon points="226.95,532.85 231.45,532.85 229.20,528.75" fill="#d01c30"/>
<polygon points="233.15,541.75 237.65,541.75 235.40,537.65" fill="#d01c30"/>
<polygon points="226.95,546.35 231.45,546.35 229.20,542.25" fill="#d01c30"/>
<line x1="213" y1="504.4" x2="246" y2="504.4" stroke="#cc2230" stroke-width="1.15" stroke-linecap="butt"/>
<rect x="274.60" y="446.90" width="4.2" height="4.2" fill="#141194"/>
<rect x="267.70" y="461.30" width="4.2" height="4.2" fill="#141194"/>
<rect x="274.60" y="461.30" width="4.2" height="4.2" fill="#141194"/>
<rect x="282.00" y="461.30" width="4.2" height="4.2" fill="#141194"/>
<rect x="274.60" y="468.20" width="4.2" height="4.2" fill="#141194"/>
<rect x="274.60" y="474.50" width="4.2" height="4.2" fill="#141194"/>
<rect x="274.60" y="487.20" width="4.2" height="4.2" fill="#141194"/>
<rect x="267.70" y="492.90" width="4.2" height="4.2" fill="#141194"/>
<rect x="274.60" y="492.90" width="4.2" height="4.2" fill="#141194"/>
<rect x="282.00" y="492.90" width="4.2" height="4.2" fill="#141194"/>
<rect x="267.70" y="498.60" width="4.2" height="4.2" fill="#141194"/>
<rect x="282.00" y="498.60" width="4.2" height="4.2" fill="#141194"/>
<rect x="274.80" y="504.10" width="4.2" height="4.2" fill="#141194"/>
<rect x="267.60" y="509.90" width="4.2" height="4.2" fill="#141194"/>
<rect x="274.80" y="509.90" width="4.2" height="4.2" fill="#141194"/>
<rect x="282.10" y="509.90" width="4.2" height="4.2" fill="#141194"/>
<rect x="282.10" y="514.50" width="4.2" height="4.2" fill="#141194"/>
<rect x="267.60" y="519.90" width="4.2" height="4.2" fill="#141194"/>
<rect x="274.80" y="519.90" width="4.2" height="4.2" fill="#141194"/>
<rect x="274.80" y="529.40" width="4.2" height="4.2" fill="#141194"/>
<line x1="257.8" y1="494.7" x2="296.2" y2="494.7" stroke="#2e2cc4" stroke-width="1.4" stroke-linecap="butt"/>
<line x1="350.0" y1="427.6" x2="350.0" y2="549.75" stroke="#111" stroke-width="1.9" stroke-linecap="butt"/>
<line x1="347.0" y1="427.6" x2="350.0" y2="427.6" stroke="#111" stroke-width="1.6" stroke-linecap="butt"/>
<line x1="347.0" y1="468.0" x2="350.0" y2="468.0" stroke="#111" stroke-width="1.6" stroke-linecap="butt"/>
<line x1="347.0" y1="508.3" x2="350.0" y2="508.3" stroke="#111" stroke-width="1.6" stroke-linecap="butt"/>
<line x1="347" y1="548.8" x2="480.5" y2="548.8" stroke="#111" stroke-width="1.9" stroke-linecap="butt"/>
<line x1="384.1" y1="548.8" x2="384.1" y2="551.4" stroke="#111" stroke-width="1.5" stroke-linecap="butt"/>
<line x1="434.6" y1="548.8" x2="434.6" y2="551.4" stroke="#111" stroke-width="1.5" stroke-linecap="butt"/>
<text x="323.50" y="430.90" font-size="7.6" font-weight="bold" font-style="normal" textLength="15.31" lengthAdjust="spacingAndGlyphs" fill="#111" stroke="#111" stroke-width="0.4">2.25</text>
<text x="323.50" y="471.40" font-size="7.6" font-weight="bold" font-style="normal" textLength="15.31" lengthAdjust="spacingAndGlyphs" fill="#111" stroke="#111" stroke-width="0.4">1.75</text>
<text x="323.50" y="511.60" font-size="7.6" font-weight="bold" font-style="normal" textLength="15.31" lengthAdjust="spacingAndGlyphs" fill="#111" stroke="#111" stroke-width="0.4">1.25</text>
<text x="323.50" y="552.00" font-size="7.6" font-weight="bold" font-style="normal" textLength="15.31" lengthAdjust="spacingAndGlyphs" fill="#111" stroke="#111" stroke-width="0.4">0.75</text>
<line x1="359.2" y1="439.2" x2="452" y2="439.2" stroke="#111" stroke-width="1.5" stroke-linecap="butt"/>
<text x="373.80" y="436.60" font-size="9" font-weight="bold" font-style="normal" textLength="56.22" lengthAdjust="spacingAndGlyphs" fill="#111" stroke="#111" stroke-width="0.4">p-p38MAPK</text>
<text x="371.20" y="561.60" font-size="9" font-weight="bold" font-style="normal" textLength="26.10" lengthAdjust="spacingAndGlyphs" fill="#111" stroke="#111" stroke-width="0.4">HB57-</text>
<text x="375.00" y="572.20" font-size="9" font-weight="bold" font-style="normal" textLength="15.28" lengthAdjust="spacingAndGlyphs" fill="#111" stroke="#111" stroke-width="0.4">dex</text>
<text x="422.50" y="562.80" font-size="10.3" font-weight="bold" font-style="normal" textLength="23.38" lengthAdjust="spacingAndGlyphs" fill="#111" stroke="#111" stroke-width="0.4">Goat</text>
<text x="422.80" y="574.60" font-size="9.8" font-weight="bold" font-style="normal" textLength="16.88" lengthAdjust="spacingAndGlyphs" fill="#111" stroke="#111" stroke-width="0.4">anti</text>
<polygon points="382.05,445.85 386.55,445.85 384.30,441.75" fill="#d01c30"/>
<polygon points="381.85,484.55 386.35,484.55 384.10,480.45" fill="#d01c30"/>
<polygon points="369.45,511.25 373.95,511.25 371.70,507.15" fill="#d01c30"/>
<polygon points="375.65,514.85 380.15,514.85 377.90,510.75" fill="#d01c30"/>
<polygon points="381.85,514.85 386.35,514.85 384.10,510.75" fill="#d01c30"/>
<polygon points="388.05,514.85 392.55,514.85 390.30,510.75" fill="#d01c30"/>
<polygon points="369.45,521.75 373.95,521.75 371.70,517.65" fill="#d01c30"/>
<polygon points="385.05,521.75 389.55,521.75 387.30,517.65" fill="#d01c30"/>
<polygon points="375.65,525.05 380.15,525.05 377.90,520.95" fill="#d01c30"/>
<polygon points="393.85,524.85 398.35,524.85 396.10,520.75" fill="#d01c30"/>
<polygon points="381.85,527.55 386.35,527.55 384.10,523.45" fill="#d01c30"/>
<polygon points="388.05,527.55 392.55,527.55 390.30,523.45" fill="#d01c30"/>
<polygon points="375.65,530.65 380.15,530.65 377.90,526.55" fill="#d01c30"/>
<polygon points="385.05,530.65 389.55,530.65 387.30,526.55" fill="#d01c30"/>
<polygon points="369.45,533.75 373.95,533.75 371.70,529.65" fill="#d01c30"/>
<polygon points="375.65,533.75 380.15,533.75 377.90,529.65" fill="#d01c30"/>
<polygon points="388.05,533.75 392.55,533.75 390.30,529.65" fill="#d01c30"/>
<polygon points="393.85,533.75 398.35,533.75 396.10,529.65" fill="#d01c30"/>
<polygon points="381.85,536.95 386.35,536.95 384.10,532.85" fill="#d01c30"/>
<polygon points="388.05,541.65 392.55,541.65 390.30,537.55" fill="#d01c30"/>
<polygon points="381.85,546.15 386.35,546.15 384.10,542.05" fill="#d01c30"/>
<line x1="366.9" y1="519.3" x2="401.4" y2="519.3" stroke="#cc2230" stroke-width="1.15" stroke-linecap="butt"/>
<rect x="432.50" y="462.20" width="4.2" height="4.2" fill="#141194"/>
<rect x="425.60" y="512.00" width="4.2" height="4.2" fill="#141194"/>
<rect x="432.50" y="512.00" width="4.2" height="4.2" fill="#141194"/>
<rect x="429.10" y="518.40" width="4.2" height="4.2" fill="#141194"/>
<rect x="435.70" y="518.40" width="4.2" height="4.2" fill="#141194"/>
<rect x="442.30" y="518.40" width="4.2" height="4.2" fill="#141194"/>
<rect x="418.90" y="521.60" width="4.2" height="4.2" fill="#141194"/>
<rect x="425.60" y="521.60" width="4.2" height="4.2" fill="#141194"/>
<rect x="432.50" y="524.40" width="4.2" height="4.2" fill="#141194"/>
<rect x="439.20" y="522.70" width="4.2" height="4.2" fill="#141194"/>
<rect x="445.80" y="521.60" width="4.2" height="4.2" fill="#141194"/>
<rect x="418.90" y="527.30" width="4.2" height="4.2" fill="#141194"/>
<rect x="418.90" y="530.80" width="4.2" height="4.2" fill="#141194"/>
<rect x="425.60" y="529.60" width="4.2" height="4.2" fill="#141194"/>
<rect x="425.60" y="532.50" width="4.2" height="4.2" fill="#141194"/>
<rect x="432.50" y="532.50" width="4.2" height="4.2" fill="#141194"/>
<rect x="435.70" y="527.70" width="4.2" height="4.2" fill="#141194"/>
<rect x="439.20" y="532.50" width="4.2" height="4.2" fill="#141194"/>
<rect x="439.20" y="537.70" width="4.2" height="4.2" fill="#141194"/>
<rect x="445.80" y="530.20" width="4.2" height="4.2" fill="#141194"/>
<rect x="432.50" y="542.30" width="4.2" height="4.2" fill="#141194"/>
<line x1="415.6" y1="524.6" x2="453.7" y2="524.6" stroke="#2e2cc4" stroke-width="1.4" stroke-linecap="butt"/>
<text x="156.50" y="573.50" font-size="10.5" font-weight="normal" font-style="normal" style="font-family:Liberation Serif" textLength="5.31" lengthAdjust="spacingAndGlyphs" fill="#111" stroke="#111" stroke-width="0.45">μ</text>
<text x="284.90" y="573.70" font-size="10.5" font-weight="normal" font-style="normal" style="font-family:Liberation Serif" textLength="5.61" lengthAdjust="spacingAndGlyphs" fill="#111" stroke="#111" stroke-width="0.45">μ</text>
<text x="443.70" y="574.60" font-size="10.5" font-weight="normal" font-style="normal" style="font-family:Liberation Serif" textLength="5.21" lengthAdjust="spacingAndGlyphs" fill="#111" stroke="#111" stroke-width="0.45">μ</text>
</svg>
</body></html>
